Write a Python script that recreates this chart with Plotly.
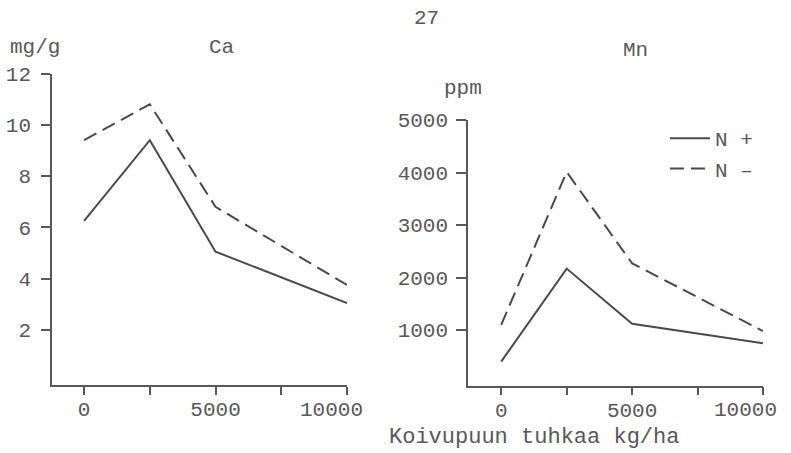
import plotly.graph_objects as go

W, H = 791, 453

ash = [0, 2500, 5000, 10000]
ca_nplus = [6.25, 9.4, 5.05, 3.05]
ca_nminus = [9.4, 10.8, 6.8, 3.75]
mn_nplus = [400, 2170, 1120, 750]
mn_nminus = [1100, 4010, 2270, 980]

x_tickvals = [0, 2500, 5000, 7500, 10000]
x_ticktext = ["0", "", "5000", "", "10000"]
ca_ticks = [2, 4, 6, 8, 10, 12]
mn_ticks = [1000, 2000, 3000, 4000, 5000]

FONT = "Liberation Mono"
INK = "#585858"
LINE = "#4a4a4a"
FS = 21

def px(x):
    return x / W

def py(y):
    return (H - y) / H

fig = go.Figure()
fig.add_trace(go.Scatter(x=ash, y=ca_nplus, mode="lines", name="N +",
                         line=dict(color=LINE, width=2), xaxis="x", yaxis="y",
                         showlegend=False))
fig.add_trace(go.Scatter(x=ash, y=ca_nminus, mode="lines", name="N –",
                         line=dict(color=LINE, width=2, dash="14px,7px"),
                         xaxis="x", yaxis="y", showlegend=False))
fig.add_trace(go.Scatter(x=ash, y=mn_nplus, mode="lines", name="N +",
                         line=dict(color=LINE, width=2), xaxis="x2", yaxis="y2"))
fig.add_trace(go.Scatter(x=ash, y=mn_nminus, mode="lines", name="N –",
                         line=dict(color=LINE, width=2, dash="14px,7px"),
                         xaxis="x2", yaxis="y2"))

axis_common = dict(showline=True, linecolor=INK, linewidth=1.5, ticks="outside",
                   tickcolor=INK, tickwidth=1.5, showgrid=False, zeroline=False,
                   automargin=False, ticklabeloverflow="allow",
                   tickfont=dict(family=FONT, size=FS, color=INK), fixedrange=True)

# the last x tick label ("10000") is typed slightly left of its tick in the
# original, so it is placed as an annotation on the axis value instead
shown_ticktext = x_ticktext[:-1] + [""]

fig.update_layout(
    width=W, height=H, autosize=False,
    margin=dict(l=0, r=0, t=0, b=0, pad=0, autoexpand=False),
    paper_bgcolor="white", plot_bgcolor="rgba(0,0,0,0)",
    font=dict(family=FONT, size=FS, color=INK),
    xaxis=dict(domain=[px(52), px(347)], range=[-1221, 10000], anchor="y",
               tickvals=x_tickvals, ticktext=shown_ticktext, ticklen=8,
               ticklabelstandoff=-4, **axis_common),
    yaxis=dict(domain=[py(385), py(73.5)], range=[-0.15, 12], anchor="x",
               tickvals=ca_ticks, ticklen=9, ticklabelstandoff=6, **axis_common),
    xaxis2=dict(domain=[px(468), px(763)], range=[-1270, 10000], anchor="y2",
                tickvals=x_tickvals, ticktext=shown_ticktext, ticklen=8,
                ticklabelstandoff=-4, **axis_common),
    yaxis2=dict(domain=[py(385.7), py(120)], range=[-60, 5000], anchor="x2",
                tickvals=mn_ticks, ticklen=10, ticklabelstandoff=4, **axis_common),
    legend=dict(x=px(665), y=py(118), xanchor="left", yanchor="top",
                bgcolor="rgba(0,0,0,0)", font=dict(family=FONT, size=FS, color=INK),
                tracegroupgap=0, itemwidth=40),
    showlegend=True,
)

for xref, shift in (("x", 17), ("x2", 15)):
    fig.add_annotation(text=x_ticktext[-1], x=x_tickvals[-1], xref=xref,
                       y=py(410), yref="paper", showarrow=False,
                       xanchor="right", yanchor="middle", xshift=shift,
                       borderpad=0,
                       font=dict(family=FONT, size=FS, color=INK))

def label(text, x, y, size=FS):
    fig.add_annotation(text=text, x=px(x), y=py(y), xref="paper", yref="paper",
                       showarrow=False, xanchor="center", yanchor="middle",
                       font=dict(family=FONT, size=size, color=INK))

label("27", 427, 19)
label("mg/g", 35, 48)
label("Ca", 221, 48)
label("Mn", 635, 50)
label("ppm", 463, 88)
label("Koivupuun tuhkaa kg/ha", 534, 437, 22)

fig.write_html(
    "out.html",
    config={"displayModeBar": False},
    post_script="document.body.style.margin='0';document.body.style.padding='0';"
                "document.documentElement.style.overflow='hidden';",
)
